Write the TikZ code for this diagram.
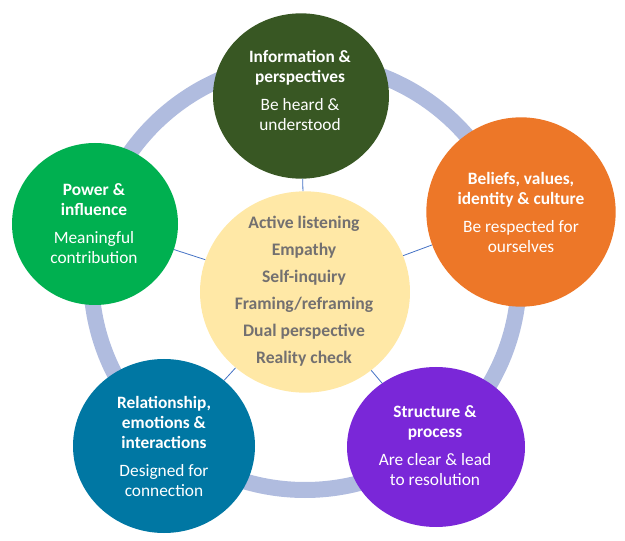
\documentclass[tikz,border=0pt]{standalone}
\usepackage{fontspec}
\setmainfont{Carlito}
\usepackage{tikz}
\usetikzlibrary{shapes.geometric}

\definecolor{ringblue}{HTML}{B0BCDF}
\definecolor{linkblue}{HTML}{4472C4}
\definecolor{infogreen}{HTML}{385723}
\definecolor{beliefsorange}{HTML}{ED7728}
\definecolor{powergreen}{HTML}{00B050}
\definecolor{relteal}{HTML}{0077A3}
\definecolor{structpurple}{HTML}{7A27D8}
\definecolor{coreyellow}{HTML}{FFE8A6}
\definecolor{coretext}{HTML}{737070}

\begin{document}
\begin{tikzpicture}[x=0.75pt, y=-0.75pt,
    bubble/.style={ellipse, inner sep=0pt},
    bubbletext/.style={text=white, align=center, inner sep=0pt,
        font=\fontsize{13}{15}\selectfont},
    coreline/.style={text=coretext, font=\fontsize{13.2}{15}\selectfont\bfseries, inner sep=0pt},
    link/.style={linkblue, line width=0.6pt}]
    \useasboundingbox (0, 0) rectangle (625, 541);

    % Ring behind the bubbles
    \draw[ringblue, line width=12pt] (305, 276) circle (214);

    % Outer bubbles
    \node[bubble, fill=infogreen, minimum width=132pt, minimum height=124pt] (info) at (301, 96) {};
    \node[bubble, fill=beliefsorange, minimum width=142pt, minimum height=142pt] (beliefs) at (521, 212) {};
    \node[bubble, fill=powergreen, minimum width=124.5pt, minimum height=121.5pt] (power) at (95, 224) {};
    \node[bubble, fill=relteal, minimum width=136.5pt, minimum height=130.5pt] (rel) at (164, 446) {};
    \node[bubble, fill=structpurple, minimum width=133.5pt, minimum height=120pt] (struct) at (436, 447) {};

    % Core bubble
    \node[bubble, fill=coreyellow, minimum width=157.5pt, minimum height=151pt] (core) at (305, 292) {};

    % Links from the core
    \draw[link] (core) -- (info);
    \draw[link] (core) -- (beliefs);
    \draw[link] (core) -- (power);
    \draw[link] (core) -- (rel);
    \draw[link] (core) -- (struct);

    % Texts of the outer bubbles
    \node[bubbletext] (infoT) at (300, 90) {\textbf{Information \&}\\\textbf{perspectives}\\[6pt]Be heard \&\\understood};
    \node[bubbletext] (beliefsT) at (521, 212) {\textbf{Beliefs, values,}\\\textbf{identity \& culture}\\[6pt]Be respected for\\ourselves};
    \node[bubbletext] (powerT) at (94, 224) {\textbf{Power \&}\\\textbf{influence}\\[6pt]Meaningful\\contribution};
    \node[bubbletext] (relT) at (164, 446) {\textbf{Relationship,}\\\textbf{emotions \&}\\\textbf{interactions}\\[6pt]Designed for\\connection};
    \node[bubbletext] (structT) at (435, 446) {\textbf{Structure \&}\\\textbf{process}\\[6pt]Are clear \& lead\\to resolution};

    % Texts of the core
    \foreach \txt [count=\i] in {Active listening, Empathy, Self-inquiry, Framing/reframing, Dual perspective, Reality check}
        \node[coreline] (core\i) at (304, 224 + 27*\i - 27) {\txt};
\end{tikzpicture}
\end{document}
